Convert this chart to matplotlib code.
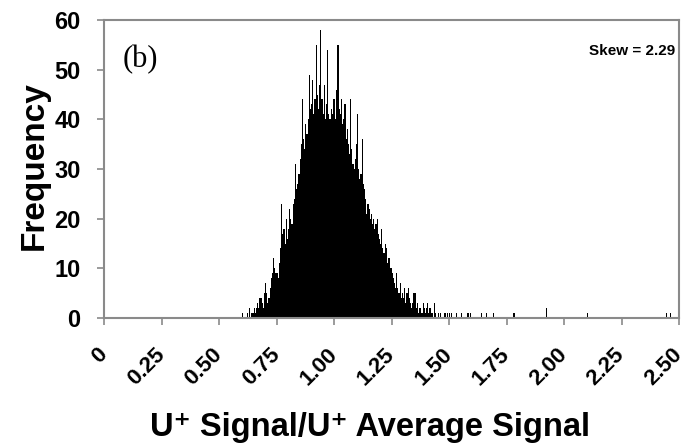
import numpy as np
import matplotlib
matplotlib.use("Agg")
import matplotlib.pyplot as plt

# Histogram of U+ signal normalised to the average signal (bin width 0.005)
bin_width = 0.005
main_start = 0.600
main_counts = [
    1, 0, 0, 0, 1, 0, 2, 0, 1, 1,
    2, 1, 2, 3, 2, 4, 4, 3, 2, 5,
    7, 5, 3, 4, 6, 8, 9, 12, 10, 9,
    9, 8, 11, 14, 23, 17, 18, 15, 20, 16,
    18, 22, 20, 19, 23, 24, 31, 26, 27, 29,
    32, 35, 44, 36, 34, 39, 37, 40, 49, 42,
    43, 48, 41, 44, 55, 45, 42, 47, 58, 44,
    41, 47, 40, 43, 54, 41, 40, 42, 41, 44,
    44, 40, 46, 55, 42, 41, 44, 39, 40, 43,
    36, 38, 35, 33, 44, 34, 31, 30, 32, 35,
    41, 30, 28, 29, 36, 27, 26, 24, 21, 23,
    22, 20, 21, 19, 20, 18, 19, 20, 17, 16,
    15, 18, 14, 13, 15, 14, 11, 12, 12, 10,
    9, 8, 7, 6, 9, 6, 5, 7, 4, 5,
    4, 6, 3, 5, 6, 4, 3, 2, 3, 5,
    5, 2, 3, 1, 2, 2, 1, 3, 2, 1,
    2, 3, 1, 2, 1, 1, 0, 3, 1, 0,
    1, 0, 1, 0, 0, 0, 1, 0, 1, 0,
]
# sparse high-signal tail (bin left edges and counts)
tail_edges = [1.500, 1.510, 1.530, 1.550, 1.580, 1.590, 1.640, 1.660,
              1.690, 1.780, 1.920, 2.100, 2.445, 2.460]
tail_counts = [1, 1, 1, 1, 1, 1, 1, 1, 1, 1, 2, 1, 1, 1]

x_ticks = [0, 0.25, 0.50, 0.75, 1.00, 1.25, 1.50, 1.75, 2.00, 2.25, 2.50]
x_tick_labels = ["0", "0.25", "0.50", "0.75", "1.00", "1.25", "1.50",
                 "1.75", "2.00", "2.25", "2.50"]
y_ticks = [0, 10, 20, 30, 40, 50, 60]
skew = 2.29

main_edges = main_start + bin_width * np.arange(len(main_counts))
edges = np.concatenate([main_edges, tail_edges])
counts = np.concatenate([main_counts, tail_counts])

plt.rcParams["font.family"] = ["Liberation Sans", "DejaVu Sans"]
frame = "#8a8a8a"

fig = plt.figure(figsize=(6.85, 4.45), dpi=100)
ax = fig.add_axes([104 / 685, 1 - 318 / 445, 575 / 685, 298 / 445])

ax.bar(edges, counts, width=bin_width, align="edge",
       color="black", edgecolor="none", linewidth=0)

ax.set_xlim(0, 2.5)
ax.set_ylim(0, 60)
ax.set_xticks(x_ticks)
ax.set_xticklabels(x_tick_labels, rotation=45, ha="right", va="center",
                   rotation_mode="anchor", fontweight="bold", fontsize=16)
ax.set_yticks(y_ticks)
ax.set_yticklabels([str(v) for v in y_ticks], fontweight="bold", fontsize=17)

for s in ax.spines.values():
    s.set_color(frame)
    s.set_linewidth(1.5)
ax.tick_params(axis="y", direction="out", length=5, width=1.2, color=frame, pad=12)
ax.tick_params(axis="x", direction="out", length=5, width=1.2, color=frame, pad=19)

ax.set_ylabel("Frequency", fontsize=24, fontweight="bold")
ax.yaxis.set_label_coords(-0.094, 0.51)
ax.set_xlabel("U\u207a Signal/U\u207a Average Signal", fontsize=23.5,
              fontweight="bold")
ax.xaxis.set_label_coords(0.463, -0.315)

ax.text(0.063, 0.866, "(b)", transform=ax.transAxes, fontsize=22,
        family="Liberation Serif", va="center", ha="center")
ax.text(0.993, 0.897, f"Skew = {skew:.2f}", transform=ax.transAxes,
        fontsize=11, fontweight="bold", va="center", ha="right")

fig.savefig("out.png", dpi=100, facecolor="white")
